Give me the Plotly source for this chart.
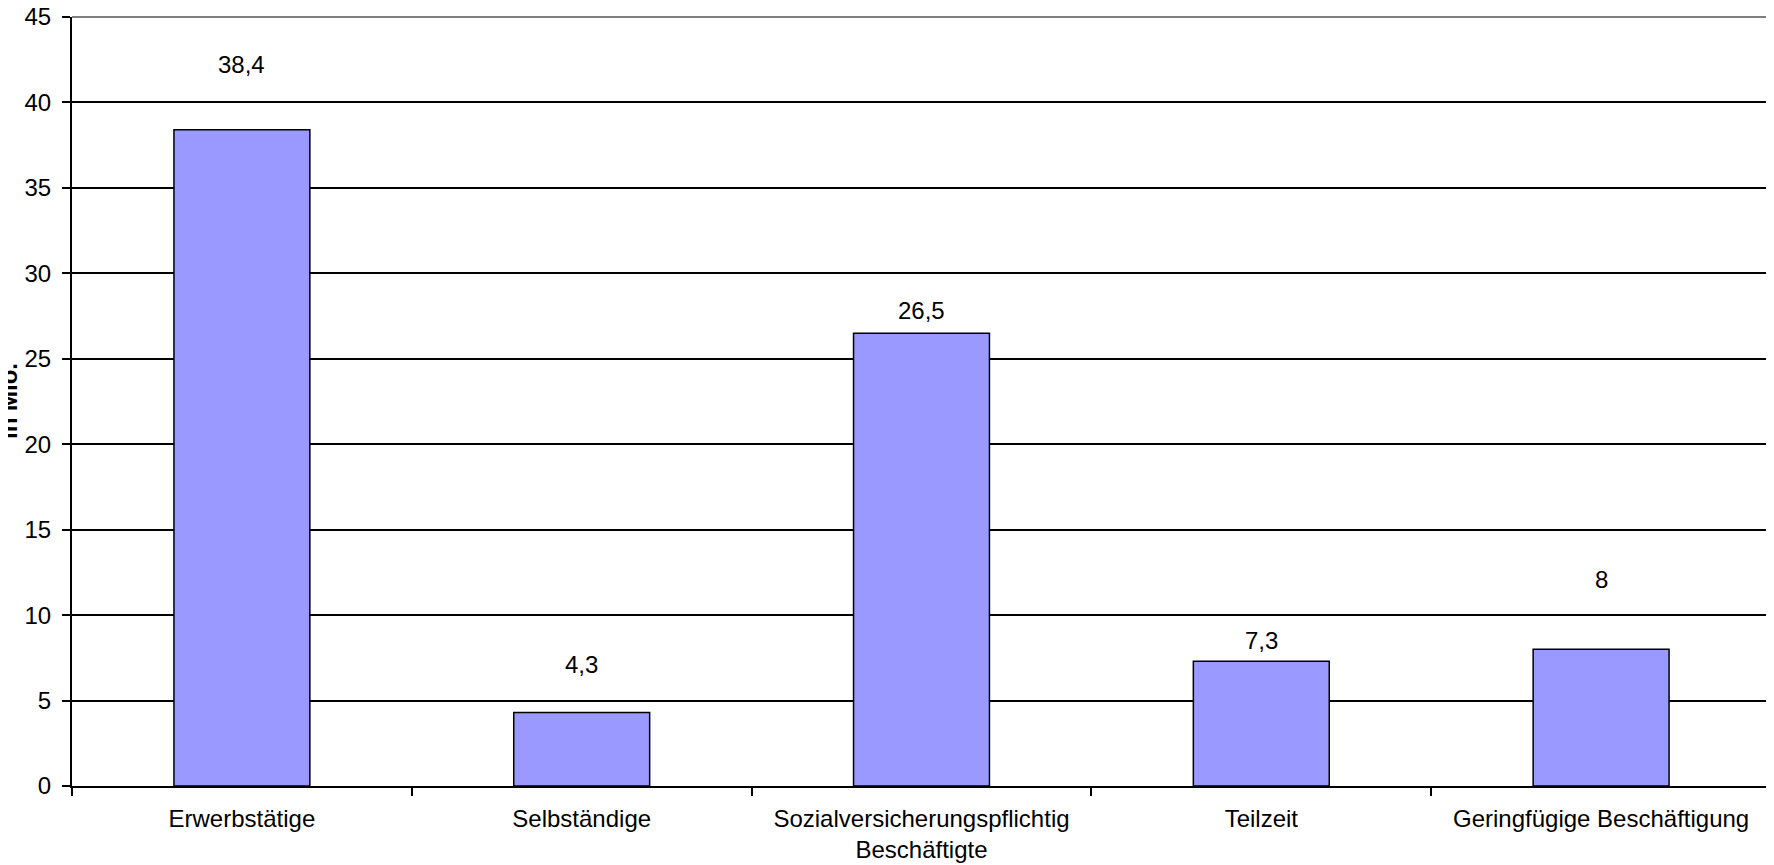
import plotly.graph_objects as go

categories = ["Erwerbstätige", "Selbständige", "Sozialversicherungspflichtig<br>Beschäftigte", "Teilzeit", "Geringfügige Beschäftigung"]
values = [38.4, 4.3, 26.5, 7.3, 8.0]
value_labels = ["38,4", "4,3", "26,5", "7,3", "8"]
label_offsets = [3.8, 2.8, 1.3, 1.2, 4.1]
y_ticks = [0, 5, 10, 15, 20, 25, 30, 35, 40, 45]

FONT = "Liberation Sans, Arial, sans-serif"
FS = 24

fig = go.Figure()
fig.add_trace(go.Bar(
    x=categories, y=values,
    marker=dict(color="#9999FF", line=dict(color="black", width=1.5)),
    hoverinfo="x+y",
))

for c, v, lab, off in zip(categories, values, value_labels, label_offsets):
    fig.add_annotation(x=c, y=v + off, text=lab, showarrow=False,
                       font=dict(family=FONT, size=FS, color="black"),
                       xref="x", yref="y")

# y-axis title (partly cut at the page edge, as in the original)
fig.add_annotation(xref="paper", yref="paper", x=0, y=0.5, xshift=-79,
                   text="<b>in Mio.</b>", textangle=-90, showarrow=False,
                   font=dict(family=FONT, size=FS, color="black"))

# gray top and right border
fig.add_shape(type="line", xref="paper", yref="paper", x0=0, x1=1, y0=1, y1=1,
              line=dict(color="#808080", width=2))
fig.add_shape(type="line", xref="paper", yref="paper", x0=1, x1=1, y0=0, y1=1,
              line=dict(color="#808080", width=2))

fig.update_layout(
    width=1766, height=857,
    margin=dict(l=64, r=3, t=9, b=79),
    paper_bgcolor="white", plot_bgcolor="white",
    bargap=0.6, showlegend=False,
    font=dict(family=FONT, size=FS, color="black"),
    xaxis=dict(type="category", tickson="boundaries", ticks="outside", ticklen=8,
               tickcolor="black", tickwidth=1.5, showline=True, linecolor="black",
               linewidth=2, showgrid=False, tickfont=dict(size=FS),
               ticklabelstandoff=10, automargin=False, ticklabeloverflow="allow"),
    yaxis=dict(range=[0, 45], tickvals=y_ticks, ticks="outside", ticklen=8,
               tickcolor="black", tickwidth=1.5, showline=True, linecolor="black",
               linewidth=2, showgrid=True, gridcolor="black", gridwidth=1.5,
               zeroline=False, tickfont=dict(size=FS), ticklabelstandoff=6,
               automargin=False, ticklabeloverflow="allow"),
)

fig.write_html("out.html")
